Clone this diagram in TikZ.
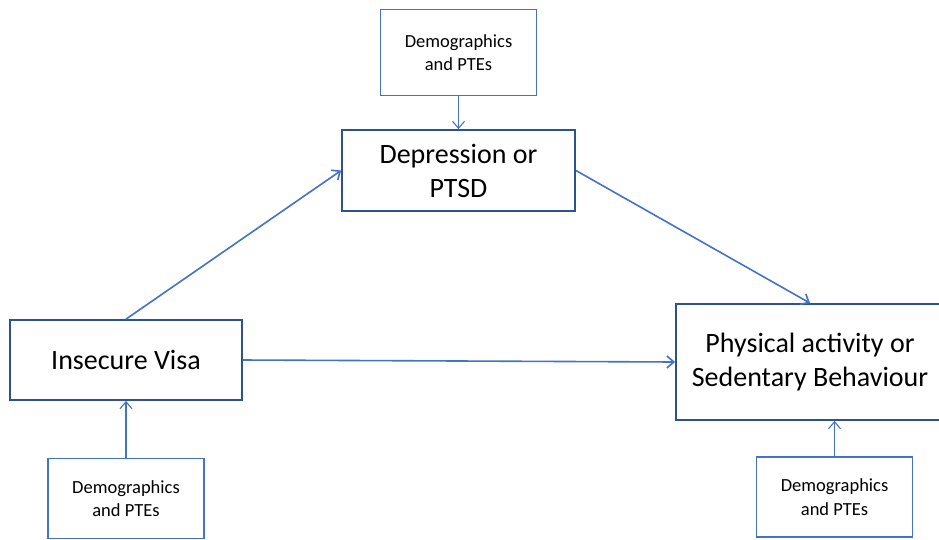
\documentclass[tikz,border=0pt]{standalone}
\usepackage{fontspec}
\setmainfont{Carlito}
\usepackage{xcolor}
\usetikzlibrary{positioning, arrows.meta}
\definecolor{boxblue}{HTML}{2F528F}
\definecolor{lineblue}{HTML}{4472C4}
\tikzset{
    mainbox/.style={rectangle, draw=boxblue, line width=1.8pt, fill=white, align=center, font=\fontsize{28}{34}\selectfont},
    factor/.style={rectangle, draw=lineblue, line width=1.2pt, fill=white, align=center, minimum width=156pt, minimum height=86pt, font=\fontsize{18.5}{23.5}\selectfont},
    path/.style={-{Straight Barb[length=7pt, width=12pt]}, draw=lineblue, line width=1.6pt},
    adjust/.style={-{Straight Barb[length=7pt, width=12pt]}, draw=lineblue, line width=1.1pt}
}
\begin{document}
\begin{tikzpicture}[x=1pt, y=-1pt]
    \clip (0,0) rectangle (939,539);
    \fill[white] (0,0) rectangle (939,539);

    % Main variables
    \node[mainbox, minimum width=233pt, minimum height=81pt] (Dep) at (458.5,170.5) {Depression or\\PTSD};
    \node[mainbox, minimum width=232pt, minimum height=80pt] (Visa) at (126,360) {Insecure Visa};
    \node[mainbox, minimum width=268pt, minimum height=116pt] (Phys) at (810,362) {Physical activity or\\Sedentary Behaviour};

    % Covariates
    \node[factor, above=33pt of Dep] (DemoTop) {Demographics\\and PTEs};
    \node[factor, minimum height=80pt, below=57pt of Visa] (DemoLeft) {Demographics\\and PTEs};
    \node[factor, minimum height=80pt] (DemoRight) at (834.5,497) {Demographics\\and PTEs};

    % Paths
    \draw[path] (Visa.north) -- (Dep.west);
    \draw[path] (Dep.east) -- (Phys.north);
    \draw[path] (Visa.east) -- (Phys.west);

    % Adjustments
    \draw[adjust] (DemoTop) -- (Dep);
    \draw[adjust] (DemoLeft) -- (Visa);
    \draw[adjust] (DemoRight.north) -- (DemoRight.north |- Phys.south);
\end{tikzpicture}
\end{document}
